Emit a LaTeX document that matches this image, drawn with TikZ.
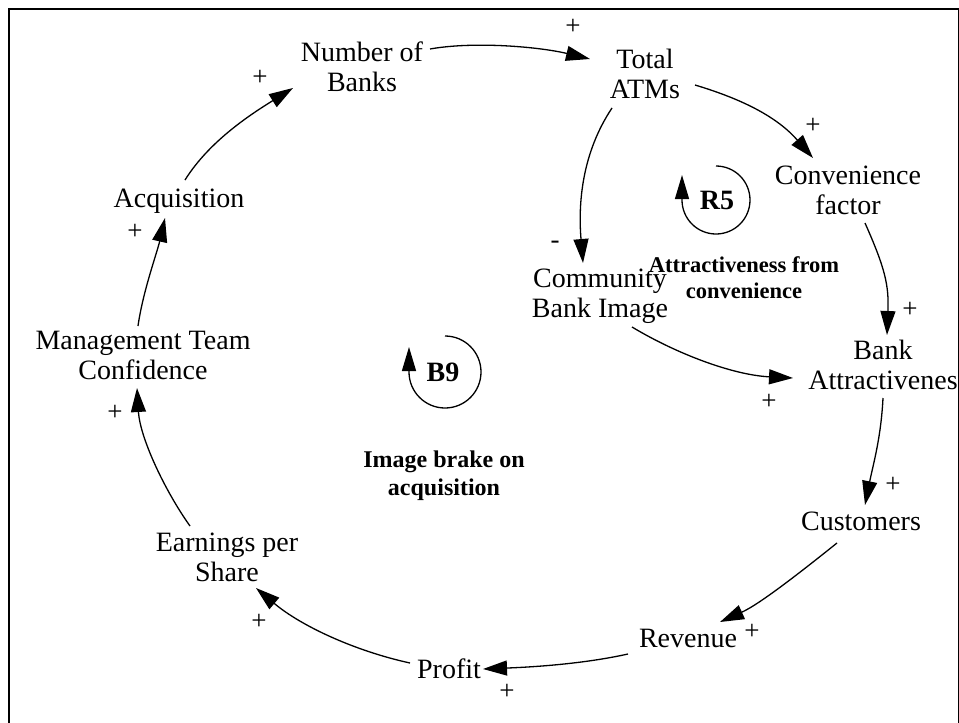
\documentclass[tikz,border=0pt]{standalone}
\usepackage{fontspec}
\setmainfont{Liberation Serif}
\usetikzlibrary{arrows.meta}
\begin{document}
\begin{tikzpicture}[x=1pt,y=-1pt,
  var/.style={font=\fontsize{28}{30}\selectfont, align=center, inner sep=0pt, anchor=base},
  sign/.style={font=\fontsize{27}{27}\selectfont, inner sep=0pt},
  looplabel/.style={font=\bfseries\fontsize{22.5}{27}\selectfont, align=center, inner sep=0pt, anchor=base},
  loopname/.style={font=\bfseries\fontsize{28}{28}\selectfont, inner sep=0pt},
  link/.style={-{Triangle[length=24pt,width=15pt]}, line width=1.3pt},
  loopmark/.style={-{Triangle[length=24pt,width=14pt]}, line width=1.3pt},
  frame/.style={line width=1.5pt},
]
\useasboundingbox (0,0) rectangle (959,723);
% outer frame, open at the bottom of the page
\draw[frame] (9,740) -- (9,9) -- (958.5,9) -- (958.5,740);

% variables (base anchor = baseline of the last line)
\node[var] (nb)  at (362,91)  {Number of\\Banks};
\node[var] (ta)  at (645,98)  {Total\\ATMs};
\node[var] (cf)  at (848,214) {Convenience\\factor};
\node[var] (cbi) at (600,317) {Community\\Bank Image};
\node[var] (ba)  at (883,389) {Bank\\Attractivenes};
\node[var] (cu)  at (861,530) {Customers};
\node[var] (rev) at (688,647) {Revenue};
\node[var] (pr)  at (449,678) {Profit};
\node[var] (eps) at (227,581) {Earnings per\\Share};
\node[var] (mtc) at (143,379) {Management Team\\Confidence};
\node[var] (acq) at (179,207) {Acquisition};

% causal links
\draw[link] ([shift={(68,-42)}]nb.base) .. controls +(45,-8) and +(-50,-12) .. ([shift={(-55,-39)}]ta.base);
\draw[link] ([shift={(50,-13)}]ta.base) .. controls +(50,15) and +(-35,-40) .. ([shift={(-35,-56)}]cf.base);
\draw[link] ([shift={(-33,10)}]ta.base) .. controls +(-30,45) and +(-5,-60) .. ([shift={(-17,-54)}]cbi.base);
\draw[link] ([shift={(17,9)}]cf.base) .. controls +(20,45) and +(2,-50) .. ([shift={(4,-54)}]ba.base);
\draw[link] ([shift={(32,10)}]cbi.base) .. controls +(45,27) and +(-60,-3) .. ([shift={(-90,-11)}]ba.base);
\draw[link] ([shift={(0,9)}]ba.base) .. controls +(-2,40) and +(8,-40) .. ([shift={(4,-25)}]cu.base);
\draw[link] ([shift={(-24,13)}]cu.base) .. controls +(-35,28) and +(40,-18) .. ([shift={(32,-25)}]rev.base);
\draw[link] ([shift={(-60,7)}]rev.base) .. controls +(-45,10) and +(50,-2) .. ([shift={(34,-9)}]pr.base);
\draw[link] ([shift={(-39,-15)}]pr.base) .. controls +(-55,-12) and +(45,38) .. ([shift={(29,7)}]eps.base);
\draw[link] ([shift={(-37,-55)}]eps.base) .. controls +(-25,-35) and +(3,50) .. ([shift={(-6,9)}]mtc.base);
\draw[link] ([shift={(-5,-53)}]mtc.base) .. controls +(5,-35) and +(-8,35) .. ([shift={(-14,11)}]acq.base);
\draw[link] ([shift={(6,-27)}]acq.base) .. controls +(25,-40) and +(-40,25) .. ([shift={(-69,-3)}]nb.base);

% link polarities
\node[sign] (s1)  at (573,27)  {+};
\node[sign] (s2)  at (813,126) {+};
\node[sign] (s3)  at (555,245) {-};
\node[sign] (s4)  at (910,310) {+};
\node[sign] (s5)  at (769,402) {+};
\node[sign] (s6)  at (893,485) {+};
\node[sign] (s7)  at (752,632) {+};
\node[sign] (s8)  at (507,692) {+};
\node[sign] (s9)  at (259,622) {+};
\node[sign] (s10) at (115,413) {+};
\node[sign] (s11) at (135,232) {+};
\node[sign] (s12) at (260,78)  {+};

% loop markers
\node[loopname] (b9) at (443,372) {B9};
\draw[loopmark] ([shift={(2,-36)}]b9.center) arc[start angle=-90, end angle=180, radius=36] -- ++(0,-25);
\node[loopname] (r5) at (717,200) {R5};
\draw[loopmark] ([shift={(-1,-34)}]r5.center) arc[start angle=-90, end angle=180, radius=34] -- ++(0,-25);

% loop names (base anchor = baseline of the second line)
\node[looplabel, font=\bfseries\fontsize{24}{28}\selectfont] (lb9) at (444,495) {Image brake on\\acquisition};
\node[looplabel, font=\bfseries\fontsize{22.5}{26}\selectfont] (lr5) at (744,298) {Attractiveness from\\convenience};
\end{tikzpicture}
\end{document}
